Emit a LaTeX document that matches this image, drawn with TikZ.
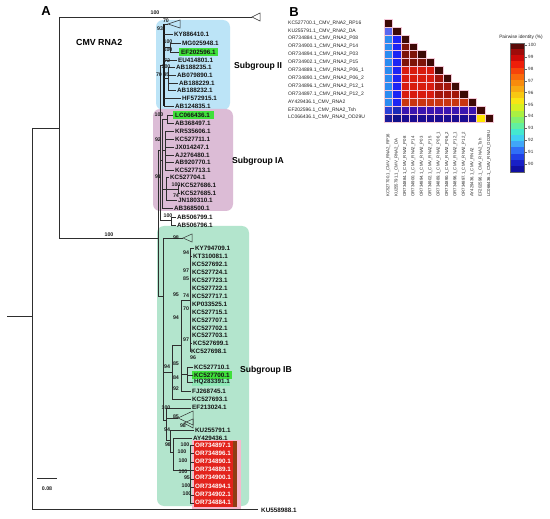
\documentclass[tikz,border=0pt]{standalone}
\usepackage{fontspec}
\setmainfont{Liberation Sans}
\definecolor{subII}{HTML}{BCE4F7}
\definecolor{subIA}{HTML}{DCBCD6}
\definecolor{subIB}{HTML}{B3E5CD}
\definecolor{hlgreen}{HTML}{3FE03A}
\definecolor{hllight}{HTML}{8FE8B8}
\definecolor{hlred}{HTML}{E3231C}
\definecolor{hlpink}{HTML}{F6B9CD}
\definecolor{hlbrown}{HTML}{8E3E14}
\definecolor{hdiag}{HTML}{3E0A06}
\definecolor{hkub}{HTML}{5A68EE}
\definecolor{hlb}{HTML}{2C8CF0}
\definecolor{hbl}{HTML}{1C24F4}
\definecolor{hdr}{HTML}{7E1409}
\definecolor{hrd}{HTML}{D81B0F}
\definecolor{hmr}{HTML}{A3150B}
\definecolor{hor}{HTML}{C9360F}
\definecolor{efa}{HTML}{2B42D6}
\definecolor{efb}{HTML}{1B2AB8}
\definecolor{efc}{HTML}{3A15B0}
\definecolor{lca}{HTML}{1C1C9A}
\definecolor{lcb}{HTML}{11118A}
\definecolor{lcc}{HTML}{1B0C92}
\definecolor{hyel}{HTML}{FFE600}
\definecolor{gridc}{HTML}{F4C8D8}
\newcounter{lfc}
\newcommand\leaf[3]{\stepcounter{lfc}\node[lfs] (lf\arabic{lfc}) at (#1,#2) {#3};}
\newcounter{bsc}
\newcommand\boot[3]{\stepcounter{bsc}\node[bss] (bs\arabic{bsc}) at (#1,#2) {#3};}
\newcommand\redleaf[2]{\stepcounter{lfc}%
  \fill[hlred] (194,#1-4.1) rectangle (237,#1+4.1);
  \fill[hlbrown] (232.5,#1-4.1) rectangle (237,#1+4.1);
  \node[lfs,text=white] (lf\arabic{lfc}) at (195,#1) {#2};}
\newcommand\hcell[3]{\fill[#3,draw=gridc,line width=0.25pt] (384+8.4*#2,19+7.9*#1) rectangle ++(8.4,7.9);}
\begin{document}
\begin{tikzpicture}[x=1pt,y=-1pt,
 br/.style={draw=black!82,line width=0.5pt},
 thk/.style={draw=black!90,line width=1.1pt},
 lfs/.style={font=\bfseries\fontsize{6.3}{7}\selectfont,anchor=west,inner sep=0pt,text=black!92},
 bss/.style={font=\bfseries\fontsize{5.3}{6}\selectfont,inner sep=0pt,text=black!88},
 sgs/.style={font=\bfseries\fontsize{8.6}{10}\selectfont,anchor=west,inner sep=0pt},
 rl/.style={font=\fontsize{5}{6}\selectfont,anchor=west,inner sep=0pt,text=black!85},
 cl/.style={font=\fontsize{4.3}{5}\selectfont,anchor=west,inner sep=0pt,rotate=90,text=black!85},
 tk/.style={font=\fontsize{4.6}{5}\selectfont,anchor=west,inner sep=0pt,text=black!80},
 ]
\useasboundingbox (0,0) rectangle (550,519);
\fill[white] (0,0) rectangle (550,519);
% panel letters
\node[font=\bfseries\fontsize{13}{14}\selectfont,inner sep=0pt] (pa) at (46,11) {A};
\node[font=\bfseries\fontsize{13}{14}\selectfont,inner sep=0pt] (pb) at (294,12) {B};
\node[sgs,font=\bfseries\fontsize{8.8}{10}\selectfont] (title) at (76,42) {CMV RNA2};
% subgroup boxes
\fill[subII,rounded corners=7pt] (156,20) rectangle (230,110);
\fill[subIA,rounded corners=7pt] (153,109) rectangle (233,211);
\fill[subIB,rounded corners=7pt] (157,226) rectangle (249,506);
\fill[hlpink] (192,440) rectangle (241,509);
\node[sgs] (sII) at (234,66) {Subgroup II};
\node[sgs] (sIA) at (232,161) {Subgroup IA};
\node[sgs] (sIB) at (240,370) {Subgroup IB};
% highlight boxes
\fill[hlgreen] (179,47.6) rectangle (218,56.4);
\fill[hlgreen] (173,110.6) rectangle (214,119.4);
\fill[hllight] (192,378.6) rectangle (230,386.4);
\fill[hlgreen] (192,370.6) rectangle (232,379.2);
% ---------- tree backbone
\draw[br] (7,316) -- (32,316);
\draw[br] (32,128) -- (32,509.5);
\draw[br] (32,128) -- (59,128);
\draw[br] (59,17) -- (59,238);
\draw[br] (59,17) -- (252,17);
\draw[br] (252,17) -- (260,13) -- (260,21) -- cycle;
\draw[br] (59,238) -- (158,238);
\draw[br] (158,150) -- (158,296);
\draw[br] (158,150) -- (160,150);
\draw[br] (160,65) -- (160,220);
\draw[br] (32,509.5) -- (258,509.5);
% subgroup II
\draw[br] (160,65) -- (164,65);
\draw[thk] (164,24) -- (164,106);
\draw[br] (164,24) -- (168,24);
\draw[br] (168,24) -- (180,20) -- (180,28) -- cycle;
\draw[br] (164,34) -- (173,34);
\draw[br] (164,47) -- (170,47) (170,43) -- (170,52) (170,43) -- (181,43) (170,52) -- (179,52);
\draw[br] (164,60) -- (177,60);
\draw[br] (164,78) -- (168,78) (168,67) -- (168,90) (168,67) -- (175,67) (168,75) -- (176,75) (168,83) -- (178,83) (168,90) -- (176,90);
\draw[br] (164,98) -- (181,98);
\draw[br] (164,106) -- (174,106);
% subgroup IA
\draw[br] (160,160) -- (162,160) (162,119) -- (162,208);
\draw[br] (162,119) -- (167,119) (167,115) -- (167,123) (167,115) -- (173,115) (167,123) -- (174,123);
\draw[br] (162,150) -- (165,150) (165,131) -- (165,170);
\foreach \yy in {131,139,147,155,162,170} \draw[br] (165,\yy) -- (174,\yy);
\draw[br] (162,189) -- (166,189) (166,177) -- (166,200) (166,177) -- (169,177) (166,189) -- (178,189) (178,185) -- (178,193) (178,185) -- (179.5,185) (178,193) -- (179.5,193) (166,200) -- (177,200);
\draw[br] (162,208) -- (173,208);
\draw[br] (160,220) -- (171,220) (171,217) -- (171,225) (171,217) -- (176,217) (171,225) -- (176,225);
% subgroup IB
\draw[br] (158,296) -- (163,296) (163,238) -- (163,420);
\draw[br] (163,238) -- (183,238);
\draw[br] (183,238) -- (192,234) -- (192,242) -- cycle;
\draw[br] (190,248) -- (190,351);
\foreach \yy/\xx in {248/194,256/192,264/191,272/191,280/191,288/191,296/191,304/191,312/191,320/191,328/191,335/191,343/192,351/190.5} \draw[br] (190,\yy) -- (\xx,\yy);
\draw[br] (181,300) -- (190,300) (181,300) -- (181,391);
\draw[br] (181,374) -- (187,374) (187,367) -- (187,382) (187,367) -- (193,367) (187,375) -- (193,375) (187,382) -- (193,382);
\draw[br] (181,391) -- (191,391);
\draw[br] (172,345) -- (181,345) (172,345) -- (172,399) (172,399) -- (191,399) (163,372) -- (172,372);
\draw[br] (163,420) -- (166,420) (166,408) -- (166,440);
\draw[br] (166,408) -- (191,408);
\draw[br] (166,418) -- (178,418);
\draw[br] (178,418) -- (193,411) -- (193,425) -- cycle;
\draw[br] (184,423) -- (193,419) -- (193,428) -- cycle;
\draw[br] (166,440) -- (170,440) (170,430) -- (170,452) (170,430) -- (194,430);
\draw[br] (170,452) -- (173,452) (173,438) -- (173,470) (173,438) -- (192,438) (173,470) -- (190,470);
\draw[br] (190,445) -- (190,503);
\foreach \yy in {445,453,462,470,479,487,495,503} \draw[br] (190,\yy) -- (194,\yy);
% scale bar
\draw[br,line width=0.6pt] (37,478) -- (57,478);
\node[bss] (scl) at (47,489) {0.08};
% ---------- leaves
\leaf{174}{34}{KY886410.1}
\leaf{182}{43}{MG025948.1}
\leaf{181}{52}{EF202596.1}
\leaf{178}{60}{EU414801.1}
\leaf{176}{67}{AB188235.1}
\leaf{177}{75}{AB079890.1}
\leaf{179}{83}{AB188229.1}
\leaf{177}{90}{AB188232.1}
\leaf{182}{98}{HF572915.1}
\leaf{175}{106}{AB124835.1}
\leaf{175}{115}{LC066436.1}
\leaf{175}{123}{AB368497.1}
\leaf{175}{131}{KR535606.1}
\leaf{175}{139}{KC527711.1}
\leaf{175}{147}{JX014247.1}
\leaf{175}{155}{AJ276480.1}
\leaf{175}{162}{AB920770.1}
\leaf{175}{170}{KC527713.1}
\leaf{170}{177}{KC527704.1}
\leaf{180.5}{185}{KC527686.1}
\leaf{180.5}{193}{KC527685.1}
\leaf{178}{200}{JN180310.1}
\leaf{174}{208}{AB368500.1}
\leaf{177}{217}{AB506799.1}
\leaf{177}{225}{AB506796.1}
\leaf{195}{248}{KY794709.1}
\leaf{193}{256}{KT310081.1}
\leaf{192}{264}{KC527692.1}
\leaf{192}{272}{KC527724.1}
\leaf{192}{280}{KC527723.1}
\leaf{192}{288}{KC527722.1}
\leaf{192}{296}{KC527717.1}
\leaf{192}{304}{KP033525.1}
\leaf{192}{312}{KC527715.1}
\leaf{192}{320}{KC527707.1}
\leaf{192}{328}{KC527702.1}
\leaf{192}{335}{KC527703.1}
\leaf{193}{343}{KC527699.1}
\leaf{191}{351}{KC527698.1}
\leaf{194}{367}{KC527710.1}
\leaf{194}{375}{KC527700.1}
\leaf{194}{382}{HQ283391.1}
\leaf{192}{391}{FJ268745.1}
\leaf{192}{399}{KC527693.1}
\leaf{192}{407}{EF213024.1}
\leaf{195}{430}{KU255791.1}
\leaf{193}{438}{AY429436.1}
\redleaf{445}{OR734897.1}
\redleaf{453.2}{OR734896.1}
\redleaf{461.4}{OR734890.1}
\redleaf{469.6}{OR734889.1}
\redleaf{477.8}{OR734900.1}
\redleaf{486}{OR734894.1}
\redleaf{494.2}{OR734902.1}
\redleaf{502.4}{OR734884.1}
\leaf{261}{510.5}{KU558988.1}
% ---------- bootstrap values
\boot{155}{13}{100}
\boot{109}{235}{100}
\boot{166}{21}{70}
\boot{160}{29}{93}
\boot{168}{42}{100}
\boot{168}{50}{100}
\boot{167}{61}{72}
\boot{166}{67}{100}
\boot{159}{75}{70}
\boot{166.5}{75}{95}
\boot{159}{115}{100}
\boot{158}{140}{92}
\boot{158}{177}{91}
\boot{176}{185}{100}
\boot{176}{196}{74}
\boot{168}{216}{100}
\boot{176}{238}{98}
\boot{186}{253}{94}
\boot{186}{271}{97}
\boot{186}{279}{85}
\boot{176}{295}{95}
\boot{186}{296}{74}
\boot{186}{309}{70}
\boot{176}{318}{94}
\boot{186}{340}{97}
\boot{193}{358}{96}
\boot{176}{364}{85}
\boot{167}{367}{94}
\boot{176}{378}{84}
\boot{176}{389}{92}
\boot{166}{408}{100}
\boot{176}{417}{85}
\boot{183}{426}{98}
\boot{167}{430}{94}
\boot{168}{445}{98}
\boot{185}{445}{100}
\boot{182}{452}{100}
\boot{183}{461}{100}
\boot{183}{472}{100}
\boot{187}{478}{95}
\boot{186}{486}{100}
\boot{187}{494}{100}
% ---------- heatmap
\foreach \i in {0,...,12} {\hcell{\i}{\i}{hdiag}}
\hcell{1}{0}{hkub}
\foreach \i in {2,...,10} {\hcell{\i}{0}{hlb}\hcell{\i}{1}{hbl}}
\foreach \i in {3,4,5} {\pgfmathtruncatemacro\jm{\i-1}\foreach \j in {2,...,\jm} {\hcell{\i}{\j}{hdr}}}
\foreach \i in {6,...,9} {\foreach \j in {2,...,5} {\hcell{\i}{\j}{hrd}}}
\foreach \i in {7,8,9} {\pgfmathtruncatemacro\jm{\i-1}\foreach \j in {6,...,\jm} {\hcell{\i}{\j}{hmr}}}
\foreach \j in {2,...,9} {\hcell{10}{\j}{hor}}
\hcell{11}{0}{efa}\hcell{11}{1}{efb}
\foreach \j in {2,...,10} {\hcell{11}{\j}{efc}}
\hcell{12}{0}{lca}\hcell{12}{1}{lcb}
\foreach \j in {2,...,10} {\hcell{12}{\j}{lcc}}
\hcell{12}{11}{hyel}
% row and column labels
\foreach \t [count=\k from 0] in {KC527700.1\_CMV\_RNA2\_RP16,KU255791.1\_CMV\_RNA2\_DA,OR734884.1\_CMV\_RNA2\_P08,OR734900.1\_CMV\_RNA2\_P14,OR734894.1\_CMV\_RNA2\_P03,OR734902.1\_CMV\_RNA2\_P15,OR734889.1\_CMV\_RNA2\_P06\_1,OR734890.1\_CMV\_RNA2\_P06\_2,OR734896.1\_CMV\_RNA2\_P12\_1,OR734897.1\_CMV\_RNA2\_P12\_2,AY429436.1\_CMV\_RNA2,EF202596.1\_CMV\_RNA2\_Tsh,LC066436.1\_CMV\_RNA2\_OD29U} {
  \node[rl] (r\k) at (288,22.95+7.9*\k) {\t};
  \node[cl] (c\k) at (388.2+8.4*\k,197) {\t};
}
% colour bar
\node[font=\fontsize{4.8}{5}\selectfont,inner sep=0pt,text=black!85] (cbt) at (521,37) {Pairwise identity (\%)};
\foreach \c [count=\k from 0] in {5A0A08,9E0B0A,CC0A08,EE1E0A,F6440A,F96A0B,F88B0C,F8A912,F8C812,F8E614,D6F022,AAF042,82F06E,62EFA0,44E8CF,40CFF2,40A6F8,306EF6,2040E6,1820C6,1010A2} {
  \definecolor{tmpc}{HTML}{\c}
  \fill[tmpc] (510,43+6.143*\k) rectangle (524,43+6.143*\k+6.4);
}
\draw[black!60,line width=0.3pt] (510,43) rectangle (524,172);
\foreach \v [count=\k from 0] in {100,99,98,97,96,95,94,93,92,91,90} {
  \draw[black!60,line width=0.3pt] (524,45+11.9*\k) -- (526.5,45+11.9*\k);
  \node[tk] (tk\k) at (528,45+11.9*\k) {\v};
}
\end{tikzpicture}
\end{document}
